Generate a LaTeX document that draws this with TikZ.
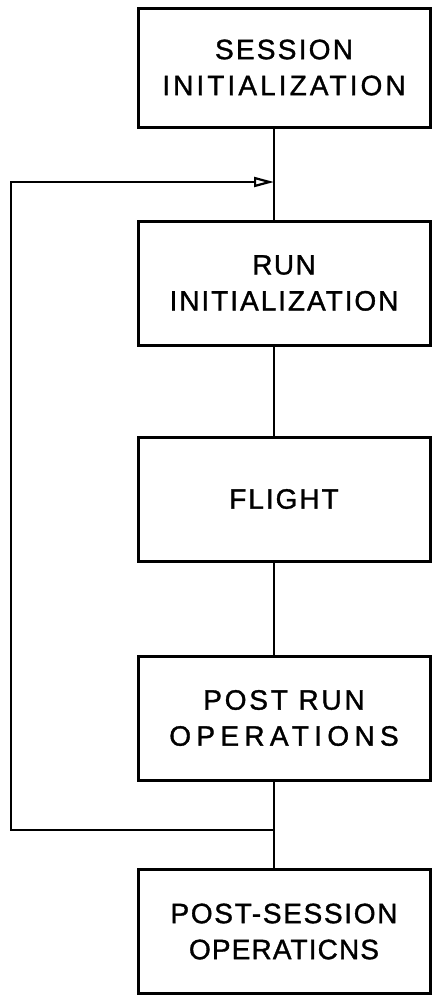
\documentclass[tikz,border=0pt]{standalone}
\usepackage{fontspec}
\setmainfont{Liberation Sans}
\usetikzlibrary{arrows.meta}
\newcommand\lsp[2]{{\addfontfeature{LetterSpace=#1}#2}}
\begin{document}
\begin{tikzpicture}[x=1pt,y=-1pt,
  stepbox/.style={draw, line width=3pt, minimum width=292pt, minimum height=124pt,
    align=center, font=\fontsize{28}{36}\selectfont\addfontfeature{FakeBold=1.2}, inner sep=0pt},
  link/.style={line width=2.4pt}]
\useasboundingbox (0,0) rectangle (432,997);
\node[stepbox, minimum height=119pt] (b1) at (284,67.5) {\lsp{8}{SESSION}\\\lsp{11}{INITIALIZATION}};
\node[stepbox] (b2) at (284,283) {\lsp{5}{RUN}\\\lsp{7}{INITIALIZATION}};
\node[stepbox] (b3) at (284,499) {\lsp{7}{FLIGHT}};
\node[stepbox] (b4) at (284,718) {\lsp{10}{POST RUN}\\\lsp{19}{OPERATIONS}};
\node[stepbox] (b5) at (284,931.5) {\lsp{6}{POST-SESSION}\\\lsp{4}{OPERATICNS}};
\coordinate (cx) at (274,0);
\coordinate (lc) at (11,0);
\coordinate (j1) at (274,182);
\coordinate (j2) at (274,830);
\draw[link] (b1.south -| cx) -- (b2.north -| cx);
\draw[link] (b2.south -| cx) -- (b3.north -| cx);
\draw[link] (b3.south -| cx) -- (b4.north -| cx);
\draw[link] (b4.south -| cx) -- (b5.north -| cx);
\draw[link, -{Triangle[open, length=20pt, width=10pt, line width=2.2pt]}] (j2) -- (j2 -| lc) -- (j1 -| lc) -- (j1);
\end{tikzpicture}
\end{document}
